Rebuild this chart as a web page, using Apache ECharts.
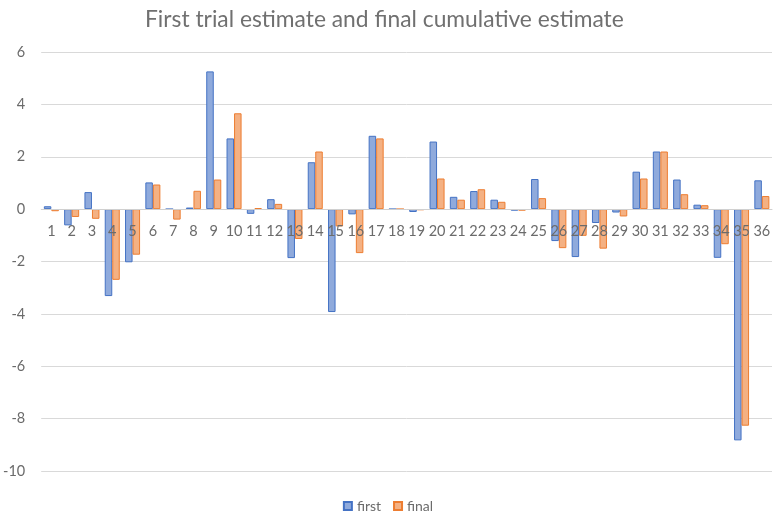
<!DOCTYPE html>
<html>
<head>
<meta charset="utf-8">
<script src="https://cdn.jsdelivr.net/npm/echarts@6/dist/echarts.min.js"></script>
<style>html,body{margin:0;padding:0;background:#fff}#c{width:776px;height:517px}</style>
</head>
<body>
<div id="c"></div>
<script>
const categories = ['1','2','3','4','5','6','7','8','9','10','11','12','13','14','15','16','17','18','19','20','21','22','23','24','25','26','27','28','29','30','31','32','33','34','35','36'];
const firstValues = [0.11,-0.62,0.65,-3.32,-2.03,1.02,0,0.06,5.26,2.70,-0.18,0.38,-1.87,1.79,-3.93,-0.20,2.80,0,-0.11,2.58,0.47,0.69,0.36,-0.06,1.15,-1.22,-1.83,-0.53,-0.13,1.43,2.20,1.13,0.17,-1.86,-8.83,1.10];
const finalValues = [-0.08,-0.30,-0.37,-2.70,-1.74,0.94,-0.40,0.70,1.13,3.66,0.04,0.20,-1.14,2.20,-0.66,-1.68,2.70,0,-0.04,1.17,0.36,0.76,0.28,-0.06,0.42,-1.49,-1.02,-1.51,-0.28,1.17,2.20,0.57,0.15,-1.34,-8.27,0.50];
const yTicks = {min:-10, max:6, interval:2};

const W = 776, H = 517;
const gridTop = 52, gridBottom = 46;
const gridHeight = H - gridTop - gridBottom;
// shift the category axis up so it sits on the zero line of the value axis
const zeroOffset = -gridHeight * (0 - yTicks.min) / (yTicks.max - yTicks.min);

const chart = echarts.init(document.getElementById('c'));
const font = 'Lato, "Open Sans", sans-serif';
chart.setOption({
  backgroundColor:'#ffffff',
  animation:false,
  title:{
    text:'First trial estimate and final cumulative estimate',
    left:140, top:3,
    textStyle:{fontFamily:font, fontSize:22.8, fontWeight:'normal', color:'#707070'}
  },
  legend:{
    bottom:4, left:'center', padding:0,
    icon:'rect', itemWidth:8, itemHeight:8, itemGap:12, itemTextGap:4,
    textStyle:{fontFamily:font, fontSize:14, color:'#6b6b6b'},
    data:['first','final']
  },
  grid:{left:39, right:4, top:gridTop, bottom:gridBottom, containLabel:false},
  xAxis:{
    type:'category', data:categories,
    offset: zeroOffset,
    z: 10,
    axisLine:{onZero:false, lineStyle:{color:'#d0d0d0', width:1}},
    axisTick:{show:false},
    axisLabel:{fontFamily:font, fontSize:14.5, color:'#6b6b6b', margin:15, interval:0, hideOverlap:false},
    splitLine:{show:false}
  },
  yAxis:{
    type:'value', min:yTicks.min, max:yTicks.max, interval:yTicks.interval,
    axisLine:{show:false}, axisTick:{show:false},
    axisLabel:{fontFamily:font, fontSize:14.5, color:'#6b6b6b', margin:16},
    splitLine:{lineStyle:{color:'#d9d9d9', width:1}}
  },
  series:[
    {name:'first', type:'bar', data:firstValues, barGap:'0%', barCategoryGap:'26%', z:2,
     itemStyle:{color:'#8faadc', borderColor:'#4472c4', borderWidth:1}},
    {name:'final', type:'bar', data:finalValues, barGap:'0%', barCategoryGap:'26%', z:2,
     itemStyle:{color:'#f4b183', borderColor:'#ed7d31', borderWidth:1}}
  ]
});
</script>
</body>
</html>
